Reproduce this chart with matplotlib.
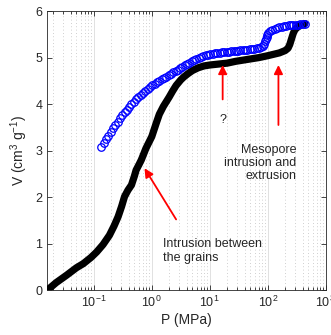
import matplotlib
matplotlib.use("Agg")
import matplotlib.pyplot as plt
import numpy as np
from matplotlib.ticker import LogLocator, FixedLocator, NullFormatter, LogFormatterMathtext

plt.rcParams["font.family"] = ["Liberation Sans", "DejaVu Sans"]
plt.rcParams["mathtext.fontset"] = "custom"
plt.rcParams["mathtext.rm"] = "Liberation Sans"
plt.rcParams["mathtext.it"] = "Liberation Sans:italic"
plt.rcParams["mathtext.default"] = "regular"

# intrusion (black), log10 of pressure in MPa vs volume
intr_logp = [-1.80, -1.65, -1.47, -1.30, -1.18, -1.05, -0.95, -0.84, -0.73,
             -0.65, -0.58, -0.52, -0.47, -0.41, -0.35, -0.30, -0.27, -0.22,
             -0.18, -0.10, 0.00, 0.08, 0.13, 0.20, 0.25, 0.30, 0.36, 0.42,
             0.50, 0.55, 0.62, 0.70, 0.80, 0.90, 1.00, 1.15, 1.30, 1.45,
             1.60, 1.75, 1.85, 2.00, 2.10, 2.20, 2.30, 2.35, 2.38, 2.41,
             2.44, 2.47, 2.52, 2.58, 2.64]
intr_v = [0.00, 0.16, 0.32, 0.48, 0.57, 0.70, 0.82, 0.98, 1.18,
          1.38, 1.58, 1.80, 2.01, 2.15, 2.26, 2.45, 2.58, 2.70,
          2.80, 3.05, 3.30, 3.60, 3.78, 3.95, 4.05, 4.15, 4.28, 4.40,
          4.52, 4.58, 4.65, 4.72, 4.78, 4.82, 4.84, 4.86, 4.88, 4.92,
          4.95, 4.98, 5.00, 5.04, 5.07, 5.10, 5.15, 5.20, 5.28, 5.40,
          5.52, 5.60, 5.66, 5.70, 5.73]

# extrusion (blue circles)
extr_logp = [-0.87, -0.83, -0.79, -0.75, -0.71, -0.67, -0.63, -0.59, -0.55,
             -0.51, -0.47, -0.43, -0.39, -0.35, -0.31, -0.27, -0.23, -0.19,
             -0.15, -0.11, -0.07, -0.03, 0.01, 0.05, 0.09, 0.13, 0.17, 0.21,
             0.25, 0.29, 0.33, 0.37, 0.41, 0.45, 0.49, 0.53, 0.57, 0.61,
             0.65, 0.69, 0.73, 0.77, 0.81, 0.85, 0.89, 0.93, 0.97, 1.01,
             1.05, 1.09, 1.13, 1.17, 1.21, 1.25, 1.29, 1.33, 1.37, 1.41,
             1.45, 1.49, 1.53, 1.57, 1.61, 1.65, 1.69, 1.73, 1.77, 1.81,
             1.85, 1.89, 1.92, 1.94, 1.96, 1.97, 1.98, 1.99, 2.01, 2.04,
             2.08, 2.12, 2.16, 2.20, 2.24, 2.28, 2.32, 2.36, 2.40, 2.44,
             2.48, 2.52, 2.56, 2.60, 2.64]
extr_v = [3.08, 3.16, 3.24, 3.32, 3.40, 3.48, 3.55, 3.62, 3.69,
          3.76, 3.82, 3.88, 3.94, 4.00, 4.05, 4.10, 4.15, 4.20,
          4.24, 4.28, 4.32, 4.36, 4.40, 4.44, 4.47, 4.50, 4.53, 4.56,
          4.59, 4.62, 4.65, 4.68, 4.71, 4.74, 4.77, 4.80, 4.83, 4.86,
          4.89, 4.92, 4.94, 4.97, 4.99, 5.01, 5.03, 5.05, 5.06, 5.07,
          5.08, 5.09, 5.10, 5.10, 5.11, 5.12, 5.12, 5.13, 5.14, 5.14,
          5.15, 5.15, 5.16, 5.16, 5.17, 5.17, 5.18, 5.19, 5.19, 5.20,
          5.21, 5.22, 5.25, 5.29, 5.35, 5.40, 5.45, 5.49, 5.53, 5.57,
          5.60, 5.62, 5.64, 5.65, 5.66, 5.67, 5.68, 5.69, 5.70, 5.70,
          5.71, 5.71, 5.72, 5.72, 5.73]

fig = plt.figure(figsize=(3.31, 3.35), dpi=100)
ax = fig.add_axes([0.143, 0.134, 0.841, 0.833])

ax.plot(10 ** np.array(intr_logp), intr_v, color="black", lw=5.2,
        solid_capstyle="round", solid_joinstyle="round", zorder=3)
ax.plot(10 ** np.array(extr_logp), extr_v, linestyle="none", marker="o",
        markersize=5.4, markerfacecolor="none", markeredgecolor="#0000ff",
        markeredgewidth=0.9, zorder=4)

ax.set_xscale("log")
ax.set_xlim(0.0158, 1000)
ax.set_ylim(0, 6)
ax.set_yticks([0, 1, 2, 3, 4, 5, 6])
ax.xaxis.set_major_locator(FixedLocator([0.1, 1, 10, 100, 1000]))
ax.xaxis.set_major_formatter(LogFormatterMathtext())
ax.xaxis.set_minor_locator(LogLocator(base=10, subs=np.arange(2, 10), numticks=20))
ax.xaxis.set_minor_formatter(NullFormatter())

ax.grid(True, axis="x", which="major", color="#dcdcdc", lw=0.6, zorder=0)
ax.grid(True, axis="x", which="minor", color="#c0c0c0", lw=0.6,
        linestyle=(0, (1, 3)), zorder=0)
ax.set_axisbelow(True)

ax.tick_params(which="both", direction="in", top=True, right=True,
               labelsize=9, colors="#262626", width=0.6)
ax.tick_params(which="major", length=3.5)
ax.tick_params(which="minor", length=2)
for sp in ax.spines.values():
    sp.set_linewidth(0.6)
    sp.set_color("#262626")

ax.set_xlabel("P (MPa)", fontsize=10, color="#262626", labelpad=2)
ax.set_ylabel("V (cm$^{3}$ g$^{-1}$)", fontsize=10, color="#262626", labelpad=4)

arrow = dict(arrowstyle="-|>", color="red", lw=1.3, mutation_scale=13,
             shrinkA=0, shrinkB=0)
ax.annotate("", xy=(16.7, 4.84), xytext=(16.7, 4.10), arrowprops=arrow)
ax.annotate("", xy=(153, 4.84), xytext=(153, 3.55), arrowprops=arrow)
ax.annotate("", xy=(0.75, 2.62), xytext=(2.63, 1.52), arrowprops=arrow)

ax.text(16.7, 3.65, "?", fontsize=9, ha="center", va="center", color="#262626")
ax.text(316, 2.73, "Mesopore\nintrusion and\nextrusion", fontsize=9,
        ha="right", va="center", color="#262626", linespacing=1.15)
ax.text(1.55, 0.84, "Intrusion between\nthe grains", fontsize=9,
        ha="left", va="center", color="#262626", linespacing=1.15)

fig.savefig("out.png", dpi=100)
